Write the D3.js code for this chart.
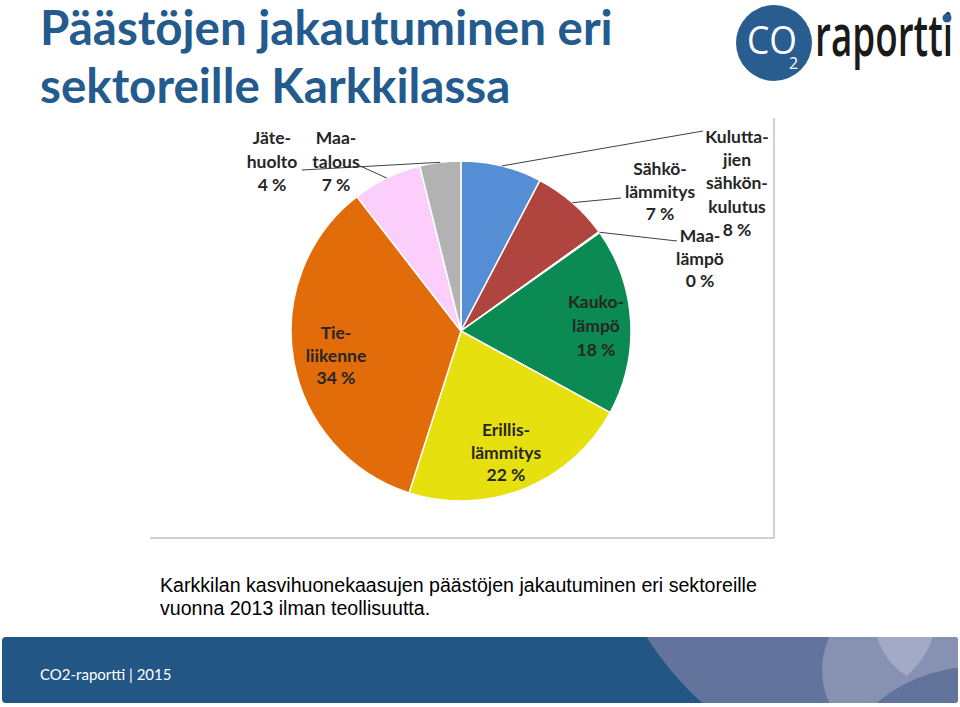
<!DOCTYPE html>
<html>
<head>
<meta charset="utf-8">
<script src="https://cdn.jsdelivr.net/npm/d3@7"></script>
<style>
  body { margin: 0; background: #fff; }
  svg { display: block; }
</style>
</head>
<body>
<div id="chart"></div>
<script>
// data
var categories = ['Kuluttajien sähkönkulutus', 'Sähkölämmitys', 'Maalämpö', 'Kaukolämpö',
  'Erillislämmitys', 'Tieliikenne', 'Maatalous', 'Jätehuolto'];
var values = [7.7, 7.4, 0.1, 17.8, 22.0, 34.6, 6.6, 3.9];
var pctLabels = ['8 %', '7 %', '0 %', '18 %', '22 %', '34 %', '7 %', '4 %'];
var nameLines = [
  ['Kulutta-', 'jien', 'sähkön-', 'kulutus'],
  ['Sähkö-', 'lämmitys'],
  ['Maa-', 'lämpö'],
  ['Kauko-', 'lämpö'],
  ['Erillis-', 'lämmitys'],
  ['Tie-', 'liikenne'],
  ['Maa-', 'talous'],
  ['Jäte-', 'huolto']
];
var colors = ['#558ed5', '#b0443f', '#7f7f7f', '#0b8a53', '#e6e00e', '#e36c0a', '#fccefc', '#b2b2b2'];

// label layout (x centre, first baseline, line step, leader end or null)
var labelPos = [
  { x: 737, y: 143, step: 23.2, lead: [703, 131] },
  { x: 660, y: 175, step: 22.5, lead: [621, 198] },
  { x: 700, y: 242, step: 22.5, lead: [677, 241] },
  { x: 596, y: 308, step: 24, lead: null },
  { x: 506, y: 436, step: 22.5, lead: null },
  { x: 336, y: 339, step: 22.5, lead: null },
  { x: 336, y: 144, step: 23.5, lead: [358, 165] },
  { x: 272, y: 144, step: 23.5, lead: [302, 170] }
];

var W = 960, H = 707;
var svg = d3.select('#chart').append('svg')
  .attr('width', W)
  .attr('height', H);

// title
var title = svg.append('text')
  .attr('fill', '#235b8e')
  .attr('font-family', 'Lato, sans-serif')
  .attr('font-weight', 'bold')
  .attr('font-size', '47.5px');
title.append('tspan').attr('x', 40).attr('y', 45).text('Päästöjen jakautuminen eri');
title.append('tspan').attr('x', 40).attr('y', 103).text('sektoreille Karkkilassa');

// logo
var logo = svg.append('g');
logo.append('circle').attr('cx', 774).attr('cy', 43).attr('r', 38).attr('fill', '#2a5d8f');
logo.append('text')
  .attr('x', 747).attr('y', 54)
  .attr('fill', '#fff')
  .attr('font-family', 'Open Sans, sans-serif')
  .attr('font-size', '39px')
  .attr('textLength', 50)
  .attr('lengthAdjust', 'spacingAndGlyphs')
  .text('CO');
logo.append('text')
  .attr('x', 789).attr('y', 69)
  .attr('fill', '#fff')
  .attr('font-family', 'Open Sans, sans-serif')
  .attr('font-size', '16px')
  .text('2');
logo.append('text')
  .attr('x', 815).attr('y', 56)
  .attr('fill', '#1a1a1a')
  .attr('font-family', 'Open Sans, sans-serif')
  .attr('font-weight', 600)
  .attr('font-size', '58px')
  .attr('textLength', 138)
  .attr('lengthAdjust', 'spacingAndGlyphs')
  .text('raportti');
logo.append('circle').attr('cx', 947).attr('cy', 18).attr('r', 4.5).attr('fill', '#2a5d8f');

// chart frame with a soft shadow
svg.append('line')
  .attr('x1', 774).attr('x2', 774).attr('y1', 118).attr('y2', 538)
  .attr('stroke', '#d0d0d0').attr('stroke-width', 2);
svg.append('line')
  .attr('x1', 150).attr('x2', 775).attr('y1', 538).attr('y2', 538)
  .attr('stroke', '#d0d0d0').attr('stroke-width', 2);

// pie
var cx = 461, cy = 331, r = 170;
var pie = d3.pie().sort(null).value(function(d) { return d; });
var arcs = pie(values);
var arc = d3.arc().innerRadius(0).outerRadius(r);
var edgeArc = d3.arc().innerRadius(r).outerRadius(r);

var g = svg.append('g').attr('transform', 'translate(' + cx + ',' + cy + ')');
g.selectAll('path')
  .data(arcs)
  .enter()
  .append('path')
  .attr('d', arc)
  .attr('fill', function(d, i) { return colors[i]; })
  .attr('stroke', '#fff')
  .attr('stroke-width', 1.5);

// leader lines
arcs.forEach(function(d, i) {
  var p = labelPos[i];
  if (!p.lead) return;
  var c = edgeArc.centroid(d);
  svg.append('line')
    .attr('x1', cx + c[0]).attr('y1', cy + c[1])
    .attr('x2', p.lead[0]).attr('y2', p.lead[1])
    .attr('stroke', '#404040')
    .attr('stroke-width', 1);
});

// slice labels
arcs.forEach(function(d, i) {
  var p = labelPos[i];
  var t = svg.append('text')
    .attr('text-anchor', 'middle')
    .attr('fill', '#262626')
    .attr('font-family', 'Lato, sans-serif')
    .attr('font-weight', 'bold')
    .attr('font-size', '17.5px');
  var lines = nameLines[i].concat([pctLabels[i]]);
  lines.forEach(function(s, j) {
    t.append('tspan').attr('x', p.x).attr('y', p.y + j * p.step).text(s);
  });
});

// caption
var cap = svg.append('text')
  .attr('fill', '#000')
  .attr('font-family', 'Liberation Sans, Arial, sans-serif')
  .attr('font-size', '19.6px');
cap.append('tspan').attr('x', 160).attr('y', 592)
  .text('Karkkilan kasvihuonekaasujen päästöjen jakautuminen eri sektoreille');
cap.append('tspan').attr('x', 160).attr('y', 615)
  .text('vuonna 2013 ilman teollisuutta.');

// footer band
var defs = svg.append('defs');
defs.append('clipPath').attr('id', 'band')
  .append('rect').attr('x', 2).attr('y', 637).attr('width', 956).attr('height', 66).attr('rx', 4);
defs.append('clipPath').attr('id', 'lens')
  .append('circle').attr('cx', 940).attr('cy', 620).attr('r', 65);
var band = svg.append('g').attr('clip-path', 'url(#band)');
band.append('rect').attr('x', 2).attr('y', 637).attr('width', 956).attr('height', 66).attr('fill', '#215685');
band.append('circle').attr('cx', 900).attr('cy', 480).attr('r', 298).attr('fill', '#62739c');
band.append('circle').attr('cx', 900).attr('cy', 670).attr('r', 78).attr('fill', '#8791b2');
band.append('circle').attr('cx', 940).attr('cy', 620).attr('r', 65).attr('fill', '#8791b2');
band.append('g').attr('clip-path', 'url(#lens)')
  .append('circle').attr('cx', 850).attr('cy', 610).attr('r', 87).attr('fill', '#a4a9c6');
band.append('circle').attr('cx', 974).attr('cy', 817).attr('r', 150).attr('fill', '#62739c');
svg.append('text')
  .attr('x', 40).attr('y', 680)
  .attr('fill', '#fff')
  .attr('font-family', 'Lato, sans-serif')
  .attr('font-size', '15px')
  .text('CO2-raportti | 2015');
</script>
</body>
</html>
